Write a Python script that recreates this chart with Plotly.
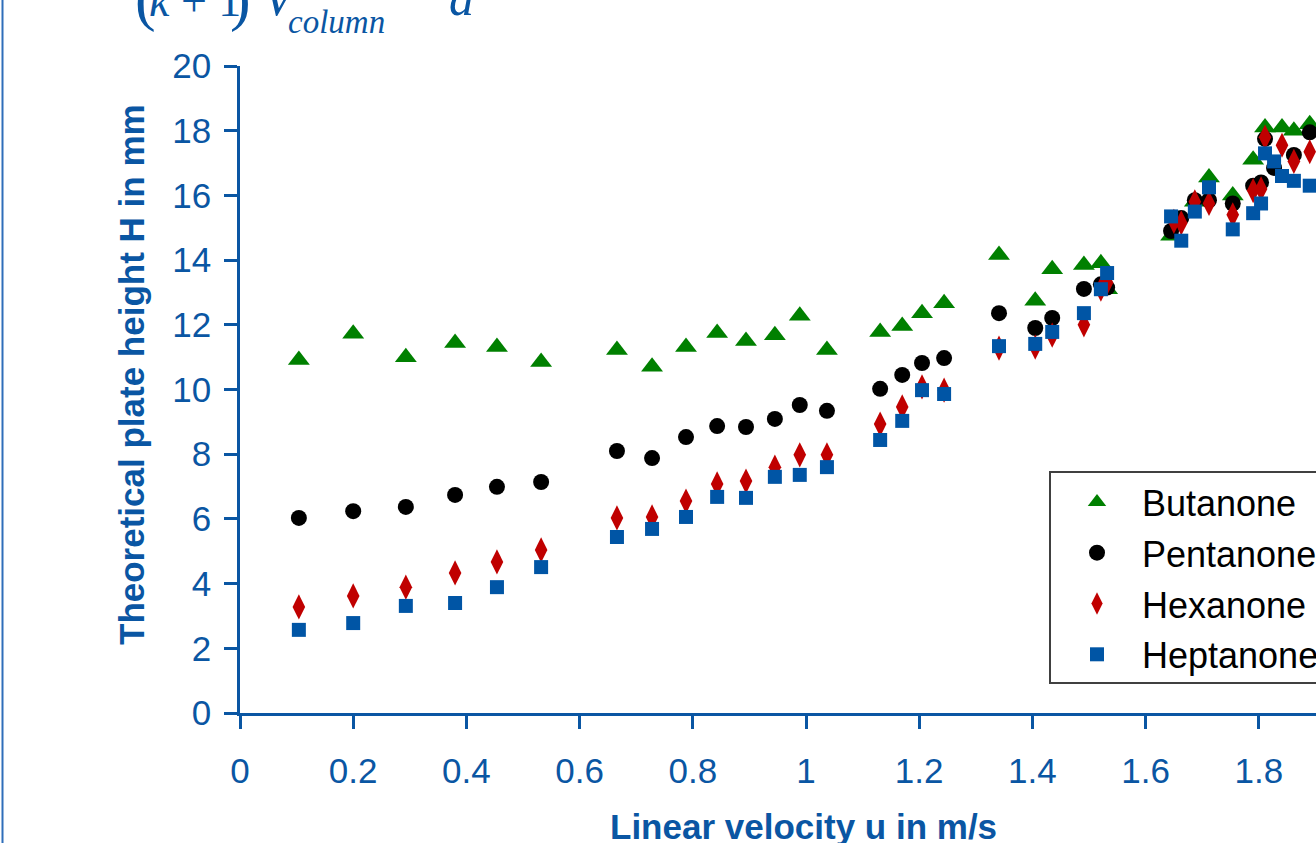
import plotly.graph_objects as go

# ---------------- data ----------------
u_common = [0.104, 0.200, 0.293, 0.380, 0.454, 0.532, 0.666, 0.728, 0.788, 0.843,
            0.894, 0.945, 0.989, 1.037, 1.131, 1.170, 1.205, 1.244, 1.341, 1.405,
            1.435, 1.491, 1.521, 1.532]

butanone_u = u_common + [1.645, 1.687, 1.712, 1.754, 1.790, 1.811, 1.841, 1.862, 1.890]
butanone_h = [10.91, 11.72, 11.00, 11.44, 11.31, 10.85, 11.22, 10.70, 11.31, 11.75,
              11.50, 11.68, 12.28, 11.22, 11.78, 11.96, 12.36, 12.67, 14.16, 12.74,
              13.72, 13.85, 13.90, 13.10,
              14.75, 15.80, 16.55, 16.00, 17.10, 18.10, 18.10, 18.00, 18.20]

pentanone_u = u_common + [1.645, 1.663, 1.687, 1.712, 1.754, 1.790, 1.804, 1.811, 1.827, 1.862, 1.890]
pentanone_h = [6.03, 6.24, 6.37, 6.74, 6.99, 7.14, 8.10, 7.88, 8.53, 8.87,
               8.84, 9.09, 9.52, 9.34, 10.02, 10.45, 10.82, 10.97, 12.36, 11.90,
               12.21, 13.11, 13.25, 13.15,
               14.90, 15.30, 15.85, 15.85, 15.75, 16.30, 16.40, 17.75, 16.85, 17.25, 17.95]

hexanone_u = u_common + [1.650, 1.663, 1.687, 1.712, 1.754, 1.790, 1.804, 1.811, 1.841, 1.862, 1.890]
hexanone_h = [3.28, 3.62, 3.89, 4.33, 4.67, 5.04, 6.03, 6.06, 6.55, 7.08,
              7.17, 7.60, 7.98, 7.98, 8.93, 9.46, 10.08, 9.98, 11.28, 11.31,
              11.68, 12.00, 13.10, 13.30,
              15.20, 15.15, 15.80, 15.75, 15.40, 16.15, 16.20, 17.80, 17.55, 17.05, 17.35]

heptanone_u = u_common + [1.645, 1.663, 1.687, 1.712, 1.754, 1.790, 1.804, 1.811, 1.827, 1.841, 1.862, 1.890]
heptanone_h = [2.57, 2.78, 3.31, 3.40, 3.89, 4.51, 5.44, 5.69, 6.06, 6.68,
               6.65, 7.30, 7.36, 7.60, 8.44, 9.03, 9.98, 9.86, 11.34, 11.41,
               11.78, 12.36, 13.10, 13.60,
               15.35, 14.60, 15.50, 16.25, 14.95, 15.45, 15.75, 17.30, 17.05, 16.60, 16.45, 16.30]

series_names = ["Butanone", "Pentanone", "Hexanone", "Heptanone"]
y_ticks = [0, 2, 4, 6, 8, 10, 12, 14, 16, 18, 20]
x_ticks = [0, 0.2, 0.4, 0.6, 0.8, 1.0, 1.2, 1.4, 1.6, 1.8]
x_ticklabels = ["0", "0.2", "0.4", "0.6", "0.8", "1", "1.2", "1.4", "1.6", "1.8"]

# ---------------- style ----------------
AX = "#0A56A3"
FONT = "Arial, Liberation Sans, sans-serif"
SERIF = "Liberation Serif, DejaVu Serif, serif"
W, H = 1316, 843
ML, MT, MB = 240, 66, 130
PW, PH = W - ML, H - MT - MB
px_per_unit = 566.0
x_max = PW / px_per_unit

def px_to_paper_x(px):
    return (px - ML) / PW

def px_to_paper_y(py):
    return (H - MB - py) / PH

styles = [
    dict(symbol="triangle-up", color="#008000", size=19),
    dict(symbol="circle", color="#000000", size=16),
    dict(symbol="diamond-tall", color="#C00000", size=18),
    dict(symbol="square", color="#0055A5", size=14),
]
data = [(butanone_u, butanone_h), (pentanone_u, pentanone_h),
        (hexanone_u, hexanone_h), (heptanone_u, heptanone_h)]

fig = go.Figure()
for name, (xs, ys), st in zip(series_names, data, styles):
    fig.add_trace(go.Scatter(
        x=xs, y=ys, mode="markers", name=name, legendgroup=name,
        marker=dict(symbol=st["symbol"], color=st["color"], size=st["size"],
                    line=dict(width=0)),
    ))

def formula_part(text, left_px, bottom_px, size):
    return dict(text=text, xref="paper", yref="paper",
                x=px_to_paper_x(left_px), y=px_to_paper_y(bottom_px),
                xanchor="left", yanchor="bottom", showarrow=False,
                borderpad=0,
                font=dict(family=SERIF, size=size, color=AX))

fig.update_layout(
    width=W, height=H,
    margin=dict(l=ML, r=0, t=MT, b=MB, autoexpand=False),
    paper_bgcolor="white", plot_bgcolor="white",
    showlegend=True,
    legend=dict(
        x=px_to_paper_x(1052), y=px_to_paper_y(472), xanchor="left", yanchor="top",
        bgcolor="rgba(0,0,0,0)", borderwidth=0,
        font=dict(family=FONT, size=36, color="black"),
        itemwidth=80, tracegroupgap=1,
    ),
    xaxis=dict(
        range=[0, x_max], tickvals=x_ticks, ticktext=x_ticklabels,
        showline=True, linecolor=AX, linewidth=2.5,
        ticks="outside", ticklen=13, tickwidth=2.5, tickcolor=AX,
        tickfont=dict(family=FONT, size=35, color=AX),
        showgrid=False, zeroline=False, ticklabelstandoff=12,
    ),
    yaxis=dict(
        range=[0, 20], tickvals=y_ticks,
        showline=True, linecolor=AX, linewidth=2.5,
        ticks="outside", ticklen=13, tickwidth=2.5, tickcolor=AX,
        tickfont=dict(family=FONT, size=35, color=AX),
        showgrid=False, zeroline=False, ticklabelstandoff=6,
    ),
    shapes=[
        # legend box (continues beyond the right edge)
        dict(type="rect", xref="paper", yref="paper",
             x0=px_to_paper_x(1050), x1=1.05,
             y0=px_to_paper_y(683), y1=px_to_paper_y(472),
             line=dict(color="#404040", width=2), fillcolor="white", layer="above"),
        # slide frame line on the left
        dict(type="line", xref="paper", yref="paper",
             x0=px_to_paper_x(2.5), x1=px_to_paper_x(2.5),
             y0=px_to_paper_y(H + 5), y1=px_to_paper_y(-5),
             line=dict(color="#2F6EBA", width=2)),
    ],
    annotations=[
        dict(text="<b>Theoretical plate height H in mm</b>", textangle=-90,
             xref="paper", yref="paper", x=px_to_paper_x(131), y=px_to_paper_y(375),
             xanchor="center", yanchor="middle", showarrow=False,
             font=dict(family=FONT, size=35, color=AX)),
        dict(text="<b>Linear velocity u in m/s</b>",
             xref="paper", yref="paper", x=px_to_paper_x(803), y=px_to_paper_y(826),
             xanchor="center", yanchor="middle", showarrow=False,
             font=dict(family=FONT, size=35, color=AX)),
        formula_part("(", 134, 34, 62),
        formula_part("<i>k</i> + 1", 148, 27, 46),
        formula_part(")", 229, 34, 62),
        formula_part("<i>V</i>", 262, 27, 50),
        formula_part("<i>column</i>", 287, 41, 33),
        formula_part("<i>d</i>", 448, 27, 50),
    ],
)

fig.write_html(
    "out.html",
    config={"displayModeBar": False},
    post_script="document.body.style.margin='0';document.body.style.overflow='hidden';",
)
